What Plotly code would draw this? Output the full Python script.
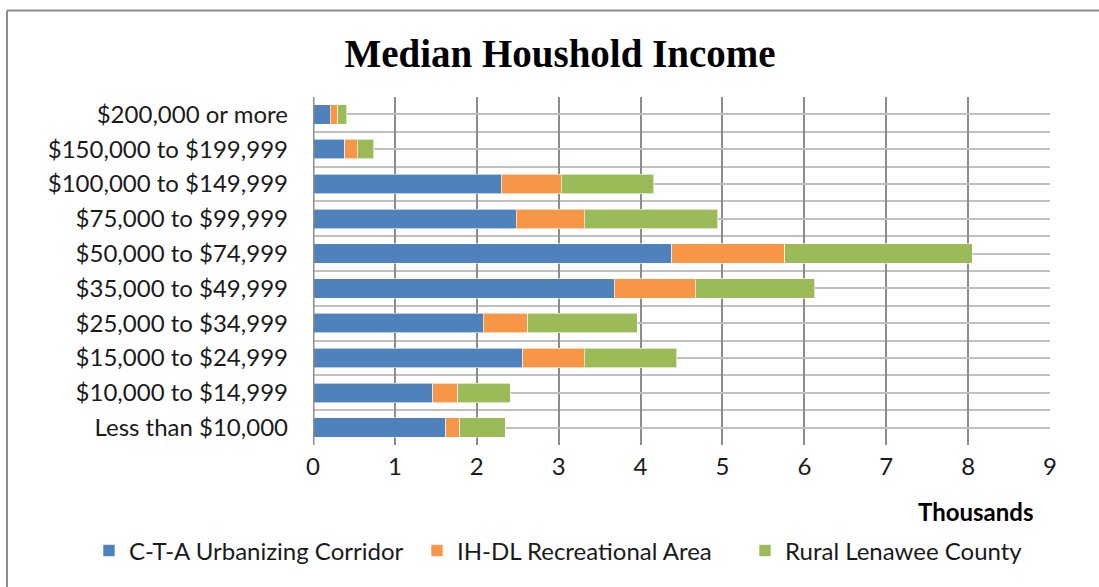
import plotly.graph_objects as go

categories = ["Less than $10,000", "$10,000 to $14,999", "$15,000 to $24,999",
              "$25,000 to $34,999", "$35,000 to $49,999", "$50,000 to $74,999",
              "$75,000 to $99,999", "$100,000 to $149,999", "$150,000 to $199,999",
              "$200,000 or more"]
# values in thousands of households
cta = [1.62, 1.46, 2.56, 2.08, 3.68, 4.38, 2.48, 2.30, 0.39, 0.21]
ihdl = [0.17, 0.31, 0.75, 0.54, 0.99, 1.38, 0.83, 0.73, 0.15, 0.09]
rural = [0.56, 0.64, 1.13, 1.34, 1.46, 2.29, 1.63, 1.13, 0.20, 0.11]
series_names = ["C-T-A Urbanizing Corridor", "IH-DL Recreational Area", "Rural Lenawee County"]
colors = ["#4F81BD", "#F79646", "#9BBB59"]
x_ticks = list(range(0, 10))

pos = list(range(len(categories)))

fig = go.Figure()
for name, vals, col in zip(series_names, [cta, ihdl, rural], colors):
    fig.add_trace(go.Bar(
        y=pos, x=vals, name=name, orientation="h",
        marker=dict(color=col, line=dict(color="rgba(255,255,255,0.6)", width=1)),
        width=0.56,
    ))

font_main = "Lato, 'Open Sans', sans-serif"
L, T, W, H = 313, 97, 737, 348

def px(x):
    return (x - L) / W

def py(y):
    return (T + H - y) / H

fig.update_layout(
    barmode="stack",
    width=1099, height=587,
    margin=dict(l=L, r=1099 - L - W, t=T, b=587 - T - H, autoexpand=False),
    paper_bgcolor="white", plot_bgcolor="white",
    title=dict(text="<b>Median Houshold Income</b>", x=560 / 1099, xanchor="center",
               y=1 - 53 / 587, yanchor="middle",
               font=dict(family="'Liberation Serif', 'DejaVu Serif', serif", size=39, color="black")),
    font=dict(family=font_main, size=24, color="#1a1a1a"),
    showlegend=True,
    legend=dict(orientation="h", x=px(89), xanchor="left", y=py(551), yanchor="middle",
                font=dict(size=24, family=font_main, color="#1a1a1a"),
                traceorder="normal", itemwidth=30, entrywidth=283, entrywidthmode="pixels",
                tracegroupgap=0),
)

fig.update_xaxes(
    range=[0, 9], tickvals=x_ticks, ticktext=[str(v) for v in x_ticks],
    showgrid=True, gridcolor="#8c8c8c", gridwidth=2,
    showline=False, zeroline=False, ticks="",
    ticklabelstandoff=5,
    tickfont=dict(size=24, family=font_main, color="#1a1a1a"),
)
fig.update_yaxes(
    range=[-0.5, 9.5], tickvals=pos, ticktext=categories,
    showgrid=True, gridcolor="#c0c0c0", gridwidth=2,
    minor=dict(tickvals=[p - 0.5 for p in pos] + [len(pos) - 0.5],
               showgrid=True, gridcolor="#c0c0c0", gridwidth=2),
    zeroline=False, ticks="",
    showline=False,
    ticklabelstandoff=24,
    tickfont=dict(size=24, family=font_main, color="#1a1a1a"),
)

# left axis line (category axis)
fig.add_shape(type="line", xref="x", yref="paper", x0=0, x1=0, y0=0, y1=1,
              line=dict(color="#8c8c8c", width=3), layer="above")

fig.add_annotation(text="<b>Thousands</b>", xref="paper", yref="paper",
                   x=px(1035), xanchor="right", y=py(511), yanchor="middle",
                   showarrow=False, font=dict(size=24, family=font_main, color="black"))

# outer chart border (top and left edges visible)
fig.add_shape(type="line", xref="paper", yref="paper",
              x0=px(7), x1=px(1099), y0=py(10.5), y1=py(10.5),
              line=dict(color="#8c8c8c", width=2))
fig.add_shape(type="line", xref="paper", yref="paper",
              x0=px(7), x1=px(7), y0=py(10.5), y1=py(587),
              line=dict(color="#8c8c8c", width=2))

fig.write_html("out.html", config={"displayModeBar": False},
               post_script="document.body.style.margin='0px';")
